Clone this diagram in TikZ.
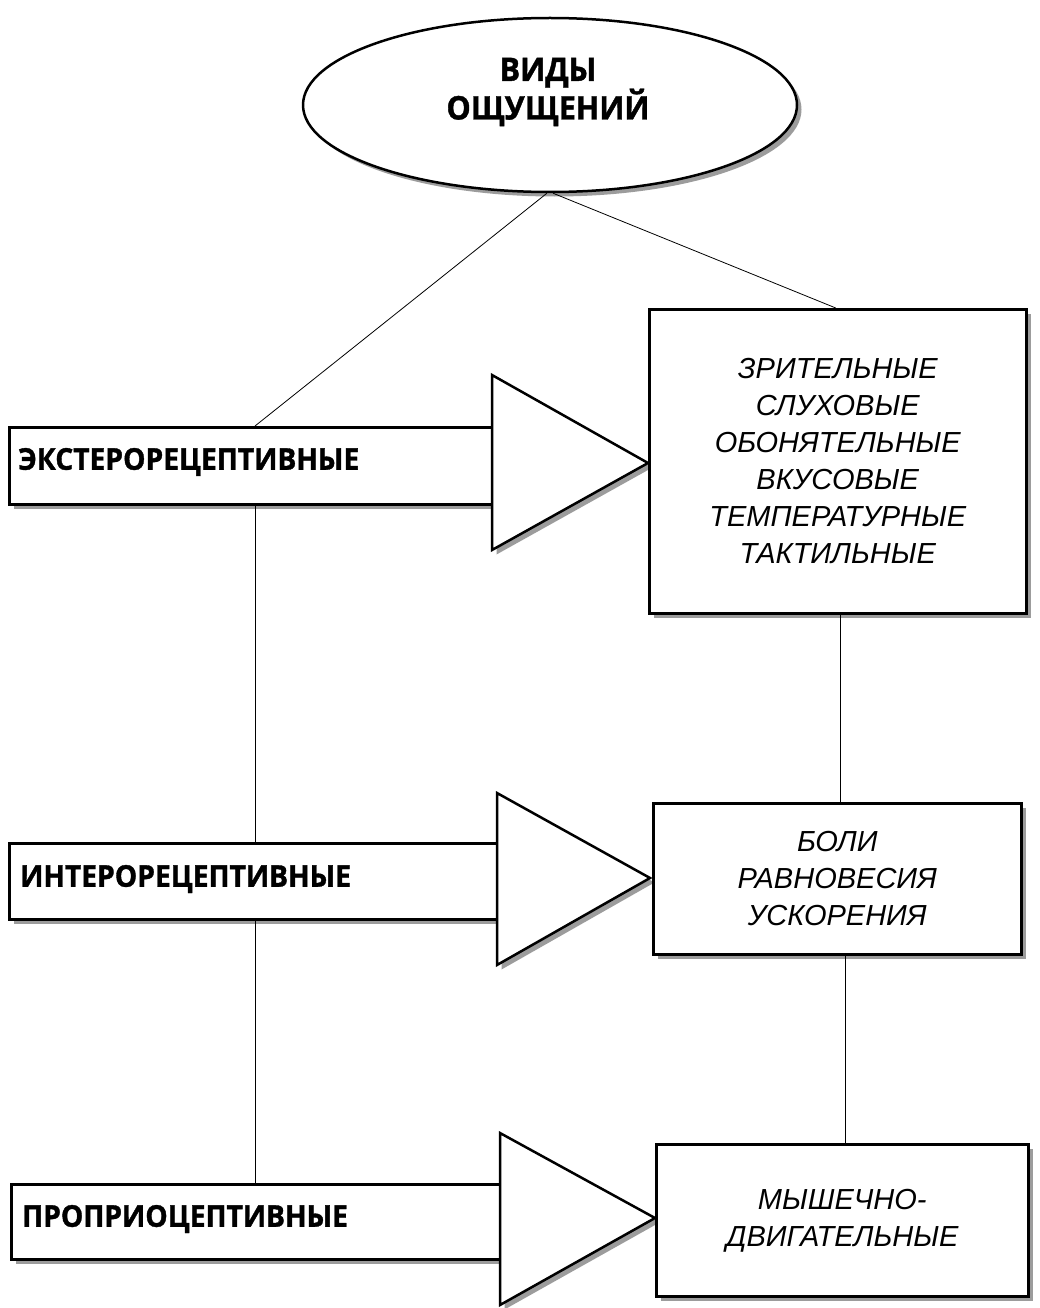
\documentclass[tikz,border=0pt]{standalone}
\usepackage{fontspec}
\setmainfont{Liberation Sans}
\newfontfamily\labf{Open Sans}[FakeStretch=0.94, BoldFeatures={FakeBold=1.2}]
\usetikzlibrary{shapes.geometric,shadows,calc}
\begin{document}
\begin{tikzpicture}[x=1pt,y=-1pt,
  outl/.style={draw=black, line width=2.5pt, fill=white, line join=miter},
  shad/.style={drop shadow={shadow xshift=4.5pt,shadow yshift=-4.5pt,fill=black!55,opacity=0.7}},
  conn/.style={draw=black, line width=0.8pt},
  lab/.style={font=\labf\bfseries\fontsize{30}{34}\selectfont, anchor=west, inner sep=0pt},
  itxt/.style={font=\itshape\fontsize{29}{37}\selectfont, align=center, inner sep=0pt},
  boxn/.style={outl, shad, anchor=north west, inner sep=0pt}
]
\useasboundingbox (0,0) rectangle (1039,1308);
\fill[white] (0,0) rectangle (1039,1308);

% ellipse
\node[ellipse, outl, shad, minimum width=494pt, minimum height=174pt, inner sep=0pt] (ell) at (550,105) {};
\node[font=\labf\bfseries\fontsize{32.5}{38.5}\selectfont, align=center, inner sep=0pt] (ellt) at (548,92) {ВИДЫ\\ОЩУЩЕНИЙ};

% row 1
\node[boxn, minimum width=484pt, minimum height=77pt] (bar1) at (8,426) {};
\path[outl, shad] (492,375) -- (648,463) -- (492,550) -- cycle;
\node[lab] (l1) at (18,462) {ЭКСТЕРОРЕЦЕПТИВНЫЕ};
\node[boxn, minimum width=377pt, minimum height=304pt, itxt] (b1) at (648,308)
  {ЗРИТЕЛЬНЫЕ\\СЛУХОВЫЕ\\ОБОНЯТЕЛЬНЫЕ\\ВКУСОВЫЕ\\ТЕМПЕРАТУРНЫЕ\\ТАКТИЛЬНЫЕ};

% row 2
\node[boxn, minimum width=489pt, minimum height=76pt] (bar2) at (8,842) {};
\path[outl, shad] (497,793) -- (650,878) -- (497,965) -- cycle;
\node[lab] (l2) at (20,879) {ИНТЕРОРЕЦЕПТИВНЫЕ};
\node[boxn, minimum width=368pt, minimum height=151pt, itxt] (b2) at (652,802)
  {БОЛИ\\РАВНОВЕСИЯ\\УСКОРЕНИЯ};

% row 3
\node[boxn, minimum width=490pt, minimum height=75pt] (bar3) at (10,1183) {};
\path[outl, shad] (500,1133) -- (655,1218) -- (500,1305) -- cycle;
\node[lab] (l3) at (22,1219) {ПРОПРИОЦЕПТИВНЫЕ};
\node[boxn, minimum width=372pt, minimum height=152pt, itxt] (b3) at (655,1143)
  {МЫШЕЧНО-\\ДВИГАТЕЛЬНЫЕ};

% connectors
\coordinate (xl) at (255,0);
\coordinate (xr) at (840,0);
\coordinate (xr2) at (845,0);
\draw[conn] (ell.-92) -- (bar1.north -| xl);
\draw[conn] (ell.-88) -- ($(b1.north)+(-2,0)$);
\draw[conn] (bar1.south -| xl) -- (bar2.north -| xl);
\draw[conn] (bar2.south -| xl) -- (bar3.north -| xl);
\draw[conn] (b1.south -| xr) -- (b2.north -| xr);
\draw[conn] (b2.south -| xr2) -- (b3.north -| xr2);
\end{tikzpicture}
\end{document}
